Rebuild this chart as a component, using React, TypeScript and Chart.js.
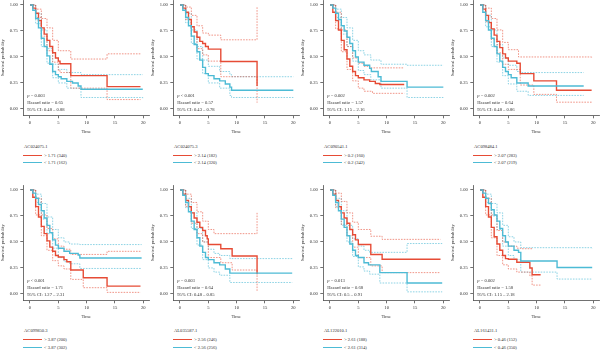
import React, { useEffect, useRef } from 'react';
import { Chart, registerables } from 'chart.js';
Chart.register(...registerables);

type P = [number, number][];

const FONT = '"Liberation Serif", "DejaVu Serif", serif';
const RED = '#E64B35';
const BLUE = '#4DBBD5';
const RED_CI = 'rgba(230,75,53,0.65)';
const BLUE_CI = 'rgba(77,187,213,0.7)';
const AXIS = '#4d4d4d';
const TXT = '#333333';

const xTicks = [0, 5, 10, 15, 20];
const yTicks = [0, 0.25, 0.5, 0.75, 1];

const genes = ['AC024075.1', 'AC024075.3', 'AC090541.1', 'AC098484.1', 'AC099850.3', 'AL035587.1', 'AL122010.1', 'AL161431.1'];
const highLabels = ['> 1.71 (340)', '> 2.14 (182)', '> 0.2 (160)', '> 2.07 (283)', '> 3.87 (200)', '> 2.56 (246)', '> 2.61 (188)', '> 0.46 (152)'];
const lowLabels = ['< 1.71 (162)', '< 2.14 (320)', '< 0.2 (342)', '< 2.07 (219)', '< 3.87 (302)', '< 2.56 (256)', '< 2.61 (314)', '< 0.46 (350)'];
const pValues = ['= 0.003', '< 0.001', '= 0.002', '= 0.002', '< 0.001', '= 0.003', '= 0.013', '= 0.002'];
const hazardRatios = ['0.65', '0.57', '1.57', '0.64', '1.71', '0.64', '0.68', '1.58'];
const ciRanges = ['0.48 – 0.88', '0.43 – 0.78', '1.15 – 2.16', '0.48 – 0.86', '1.27 – 2.31', '0.48 – 0.85', '0.5 – 0.91', '1.15 – 2.18'];

// Panel 1
const red1: P = [[0,1],[0.5,0.97],[1,0.92],[1.5,0.85],[2,0.78],[2.5,0.72],[3,0.66],[3.5,0.6],[4,0.54],[4.5,0.49],[5,0.46],[5.3,0.435],[7.2,0.32],[13.6,0.215],[19.5,0.215]];
const red1Up: P = [[0,1],[1,0.96],[2,0.87],[3,0.78],[4,0.66],[5,0.56],[7.2,0.48],[13.6,0.53],[19.5,0.53]];
const red1Lo: P = [[0,1],[1,0.88],[2,0.7],[3,0.56],[4,0.45],[5,0.37],[5.3,0.35],[7.2,0.2],[13.6,0.09],[19.5,0.09]];
const blue1: P = [[0,1],[0.5,0.95],[1,0.87],[1.5,0.78],[2,0.68],[2.5,0.6],[3,0.51],[3.5,0.43],[4,0.36],[4.5,0.33],[5,0.31],[5.5,0.29],[6.5,0.265],[7.5,0.25],[8.5,0.22],[9,0.19],[19.9,0.19]];
const blue1Up: P = [[0,1],[1,0.92],[2,0.76],[3,0.58],[4,0.43],[5,0.38],[6.5,0.35],[9,0.33],[19.9,0.33]];
const blue1Lo: P = [[0,1],[1,0.82],[2,0.6],[3,0.44],[4,0.3],[5,0.25],[6.5,0.2],[9,0.11],[19.9,0.1]];

// Panel 2
const red2: P = [[0,1],[0.5,0.97],[1,0.93],[1.5,0.86],[2,0.79],[2.5,0.74],[3,0.69],[3.5,0.65],[4,0.63],[4.5,0.6],[5,0.575],[7.2,0.457],[13.6,0.22]];
const red2Up: P = [[0,1],[1,0.98],[2,0.9],[3,0.8],[4,0.73],[5,0.71],[7.2,0.665],[13.6,0.98]];
const red2Lo: P = [[0,1],[1,0.86],[2,0.7],[3,0.58],[4,0.52],[5,0.46],[7.2,0.31],[13.6,0.06]];
const blue2: P = [[0,1],[0.5,0.95],[1,0.88],[1.5,0.8],[2,0.7],[2.5,0.62],[3,0.55],[3.5,0.47],[4,0.4],[4.5,0.34],[5,0.32],[6,0.29],[7,0.27],[8,0.24],[8.8,0.21],[9.1,0.18],[20,0.18]];
const blue2Up: P = [[0,1],[1,0.92],[2,0.76],[3,0.6],[4,0.47],[5,0.41],[7,0.36],[8.8,0.33],[9.1,0.31],[20,0.31]];
const blue2Lo: P = [[0,1],[1,0.83],[2,0.63],[3,0.48],[4,0.34],[5,0.25],[7,0.2],[8.8,0.13],[9.1,0.11],[20,0.11]];

// Panel 3
const red3: P = [[0,1],[0.5,0.93],[1,0.85],[1.5,0.76],[2,0.66],[2.5,0.57],[3,0.48],[3.5,0.41],[4,0.36],[4.5,0.32],[5,0.3],[6,0.28],[7,0.265],[8,0.245],[8.8,0.235],[13.1,0.235]];
const red3Up: P = [[0,1],[1,0.93],[2,0.76],[3,0.6],[4,0.49],[5,0.44],[6,0.41],[7,0.395],[13.1,0.395]];
const red3Lo: P = [[0,1],[1,0.77],[2,0.55],[3,0.38],[4,0.27],[5,0.2],[6,0.17],[7.5,0.15],[13.1,0.15]];
const blue3: P = [[0,1],[0.5,0.97],[1,0.92],[1.5,0.86],[2,0.8],[2.5,0.75],[3,0.69],[3.5,0.63],[4,0.56],[4.5,0.5],[5,0.45],[6,0.42],[7,0.39],[7.3,0.36],[8.5,0.31],[9,0.265],[13.6,0.21],[20,0.21]];
const blue3Up: P = [[0,1],[1,0.96],[2,0.88],[3,0.78],[4,0.66],[5,0.56],[6,0.52],[7.2,0.47],[9,0.43],[13.6,0.42],[20,0.42]];
const blue3Lo: P = [[0,1],[1,0.88],[2,0.72],[3,0.6],[4,0.46],[5,0.37],[6,0.33],[7.2,0.28],[9,0.2],[13.6,0.11],[20,0.11]];

// Panel 4
const red4: P = [[0,1],[0.5,0.96],[1,0.9],[1.5,0.83],[2,0.77],[2.5,0.71],[3,0.65],[3.5,0.59],[4,0.53],[4.5,0.49],[5,0.46],[6.5,0.44],[7.1,0.34],[9.5,0.27],[13.5,0.18],[19.7,0.18]];
const red4Up: P = [[0,1],[1,0.97],[2,0.87],[3,0.76],[4,0.64],[5,0.57],[6.8,0.5],[19.7,0.49]];
const red4Lo: P = [[0,1],[1,0.84],[2,0.67],[3,0.54],[4,0.43],[5,0.38],[7.1,0.23],[9.5,0.14],[13.5,0.065],[19.7,0.065]];
const blue4: P = [[0,1],[0.5,0.93],[1,0.85],[1.5,0.76],[2,0.68],[2.5,0.6],[3,0.53],[3.5,0.46],[4,0.4],[4.5,0.36],[5,0.33],[5.5,0.3],[6.5,0.25],[8.5,0.22],[18.3,0.22]];
const blue4Up: P = [[0,1],[1,0.9],[2,0.76],[3,0.62],[4,0.49],[5,0.42],[6.5,0.36],[7.2,0.35],[18.3,0.35]];
const blue4Lo: P = [[0,1],[1,0.79],[2,0.6],[3,0.45],[4,0.32],[5,0.24],[6.5,0.17],[8.5,0.13],[18.3,0.13]];

// Panel 5
const red5: P = [[0,1],[0.5,0.93],[1,0.84],[1.5,0.74],[2,0.65],[2.5,0.58],[3,0.51],[3.5,0.45],[4,0.41],[4.5,0.37],[5,0.355],[6,0.33],[6.5,0.31],[7.2,0.23],[9.4,0.155],[13.6,0.075],[19.5,0.075]];
const red5Up: P = [[0,1],[1,0.92],[2,0.76],[3,0.63],[4,0.53],[5,0.46],[6,0.43],[7.2,0.38],[9.4,0.38],[13.6,0.41],[19.5,0.41]];
const red5Lo: P = [[0,1],[1,0.76],[2,0.56],[3,0.42],[4,0.32],[5,0.27],[6,0.24],[7.2,0.14],[9.4,0.06],[13.6,0.015],[19.5,0.015]];
const blue5: P = [[0,1],[0.5,0.97],[1,0.92],[1.5,0.86],[2,0.8],[2.5,0.73],[3,0.66],[3.5,0.59],[4,0.52],[4.5,0.47],[5,0.44],[6,0.41],[7,0.39],[8.5,0.375],[8.8,0.345],[19.7,0.345]];
const blue5Up: P = [[0,1],[1,0.96],[2,0.87],[3,0.74],[4,0.62],[5,0.54],[6,0.5],[7,0.48],[8.8,0.475],[19.7,0.475]];
const blue5Lo: P = [[0,1],[1,0.88],[2,0.72],[3,0.58],[4,0.44],[5,0.35],[6,0.31],[7,0.29],[8.8,0.245],[19.7,0.245]];

// Panel 6
const red6: P = [[0,1],[0.5,0.96],[1,0.9],[1.5,0.84],[2,0.78],[2.5,0.73],[3,0.69],[3.5,0.64],[4,0.61],[4.5,0.56],[4.8,0.53],[5,0.475],[7.2,0.435],[9.2,0.365],[13.6,0.19]];
const red6Up: P = [[0,1],[1,0.96],[2,0.88],[3,0.79],[4,0.7],[5,0.62],[6,0.58],[13.6,0.78]];
const red6Lo: P = [[0,1],[1,0.84],[2,0.68],[3,0.58],[4,0.5],[5,0.35],[7.2,0.3],[9.2,0.23],[13.6,0.03]];
const blue6: P = [[0,1],[0.5,0.95],[1,0.88],[1.5,0.79],[2,0.7],[2.5,0.62],[3,0.54],[3.5,0.46],[4,0.4],[4.5,0.35],[5,0.33],[6,0.3],[7,0.28],[8,0.24],[8.8,0.2],[19.8,0.2]];
const blue6Up: P = [[0,1],[1,0.92],[2,0.78],[3,0.63],[4,0.5],[5,0.43],[6,0.39],[7,0.37],[8.8,0.34],[19.8,0.335]];
const blue6Lo: P = [[0,1],[1,0.83],[2,0.63],[3,0.47],[4,0.33],[5,0.25],[6,0.21],[7,0.18],[8.8,0.11],[19.8,0.11]];

// Panel 7
const red7: P = [[0,1],[0.5,0.96],[1,0.9],[1.5,0.84],[2,0.78],[2.5,0.73],[3,0.68],[3.5,0.62],[4,0.57],[4.5,0.52],[5,0.475],[7.2,0.38],[9.2,0.333],[19.5,0.333]];
const red7Up: P = [[0,1],[1,0.97],[2,0.89],[3,0.78],[4,0.69],[5,0.62],[7.2,0.555],[9.2,0.525],[19.5,0.525]];
const red7Lo: P = [[0,1],[1,0.83],[2,0.67],[3,0.56],[4,0.45],[5,0.35],[7.2,0.27],[9.2,0.205],[19.5,0.205]];
const blue7: P = [[0,1],[0.5,0.95],[1,0.88],[1.5,0.8],[2,0.72],[2.5,0.64],[3,0.56],[3.5,0.48],[4,0.42],[4.5,0.37],[5,0.35],[6,0.3],[6.8,0.28],[8.8,0.205],[13.6,0.105],[19.8,0.105]];
const blue7Up: P = [[0,1],[1,0.92],[2,0.8],[3,0.66],[4,0.53],[5,0.46],[6,0.42],[7,0.4],[8.8,0.4],[13.6,0.485],[19.8,0.485]];
const blue7Lo: P = [[0,1],[1,0.84],[2,0.66],[3,0.5],[4,0.36],[5,0.26],[6,0.22],[7,0.19],[8.8,0.105],[13.6,0.02],[19.8,0.02]];

// Panel 8
const red8: P = [[0,1],[0.5,0.93],[1,0.84],[1.5,0.74],[2,0.64],[2.5,0.55],[3,0.48],[3.5,0.42],[4,0.37],[4.5,0.34],[5,0.333],[6.5,0.305],[8.8,0.25],[9.2,0.185],[10.7,0.185]];
const red8Up: P = [[0,1],[1,0.92],[2,0.76],[3,0.61],[4,0.5],[5,0.46],[6.5,0.44],[7.2,0.435],[9.4,0.435]];
const red8Lo: P = [[0,1],[1,0.76],[2,0.54],[3,0.37],[4,0.28],[5,0.24],[6.5,0.21],[8.8,0.175],[9.2,0.085],[10.7,0.085]];
const blue8: P = [[0,1],[0.5,0.97],[1,0.92],[1.5,0.87],[2,0.81],[2.5,0.76],[3,0.7],[3.5,0.63],[4,0.56],[4.5,0.5],[5,0.46],[6,0.42],[6.8,0.4],[7.2,0.317],[13.6,0.254],[19.8,0.254]];
const blue8Up: P = [[0,1],[1,0.96],[2,0.87],[3,0.78],[4,0.66],[5,0.55],[6,0.5],[7.2,0.445],[19.8,0.435]];
const blue8Lo: P = [[0,1],[1,0.88],[2,0.75],[3,0.62],[4,0.46],[5,0.37],[6,0.33],[7.2,0.21],[13.6,0.143],[19.8,0.143]];

const panels = [
  { red: red1, redUp: red1Up, redLo: red1Lo, blue: blue1, blueUp: blue1Up, blueLo: blue1Lo },
  { red: red2, redUp: red2Up, redLo: red2Lo, blue: blue2, blueUp: blue2Up, blueLo: blue2Lo },
  { red: red3, redUp: red3Up, redLo: red3Lo, blue: blue3, blueUp: blue3Up, blueLo: blue3Lo },
  { red: red4, redUp: red4Up, redLo: red4Lo, blue: blue4, blueUp: blue4Up, blueLo: blue4Lo },
  { red: red5, redUp: red5Up, redLo: red5Lo, blue: blue5, blueUp: blue5Up, blueLo: blue5Lo },
  { red: red6, redUp: red6Up, redLo: red6Lo, blue: blue6, blueUp: blue6Up, blueLo: blue6Lo },
  { red: red7, redUp: red7Up, redLo: red7Lo, blue: blue7, blueUp: blue7Up, blueLo: blue7Lo },
  { red: red8, redUp: red8Up, redLo: red8Lo, blue: blue8, blueUp: blue8Up, blueLo: blue8Lo },
];

const FS = 4.6;
const CW = 150;
const CH = 137;

function ds(data: P, color: string, width: number, dash: number[]) {
  return {
    data: data.map(([x, y]) => ({ x, y })),
    borderColor: color,
    borderWidth: width,
    borderDash: dash,
    stepped: 'before' as const,
    pointRadius: 0,
    pointHoverRadius: 0,
    fill: false,
    tension: 0,
  };
}

function Panel({ i }: { i: number }) {
  const ref = useRef<HTMLCanvasElement>(null);
  useEffect(() => {
    const c = panels[i];
    const font = { family: FONT, size: FS };
    const dash = [1.6, 1.2];
    const annot = {
      id: 'annot' + i,
      afterDatasetsDraw(chart: any) {
        const { ctx, chartArea } = chart;
        const x = chartArea.left + 4;
        const b = chartArea.bottom;
        ctx.save();
        ctx.fillStyle = TXT;
        ctx.textBaseline = 'middle';
        ctx.textAlign = 'left';
        ctx.font = `italic ${FS}px ${FONT}`;
        ctx.fillText('p', x, b - 19.6);
        const pw = ctx.measureText('p ').width;
        ctx.font = `${FS}px ${FONT}`;
        ctx.fillText(pValues[i], x + pw, b - 19.6);
        ctx.fillText('Hazard ratio = ' + hazardRatios[i], x, b - 12.8);
        ctx.fillText('95% CI: ' + ciRanges[i], x, b - 6);
        ctx.restore();
      },
    };
    const chart = new Chart(ref.current as HTMLCanvasElement, {
      type: 'line',
      data: {
        datasets: [
          ds(c.blue, BLUE, 1.4, []),
          ds(c.red, RED, 1.4, []),
          ds(c.redUp, RED_CI, 0.9, dash),
          ds(c.redLo, RED_CI, 0.9, dash),
          ds(c.blueUp, BLUE_CI, 0.9, dash),
          ds(c.blueLo, BLUE_CI, 0.9, dash),
        ],
      },
      options: {
        animation: false,
        responsive: false,
        maintainAspectRatio: false,
        layout: { padding: { top: 0, right: 1, bottom: 0, left: 0 } },
        plugins: { legend: { display: false }, tooltip: { enabled: false } },
        events: [],
        scales: {
          x: {
            type: 'linear',
            min: -1.18,
            max: 21,
            afterBuildTicks: (s: any) => { s.ticks = xTicks.map((v) => ({ value: v })); },
            afterFit: (s: any) => { s.height = 21.7; s.paddingLeft = 0; s.paddingRight = 0; },
            grid: { drawOnChartArea: false, drawTicks: true, tickLength: 3, color: AXIS, lineWidth: 0.8 },
            border: { display: true, color: AXIS, width: 0.8 },
            ticks: { font, color: TXT, padding: 2, maxRotation: 0, autoSkip: false, callback: (v: any) => String(v) },
            title: { display: true, text: 'Time', font, color: TXT, padding: { top: 0, bottom: 2.2 } },
          },
          y: {
            type: 'linear',
            min: -0.0613,
            max: 1.048,
            afterBuildTicks: (s: any) => { s.ticks = yTicks.map((v) => ({ value: v })); },
            afterFit: (s: any) => { s.width = 23.3; s.paddingTop = 0; s.paddingBottom = 0; },
            grid: { drawOnChartArea: false, drawTicks: true, tickLength: 3, color: AXIS, lineWidth: 0.8 },
            border: { display: true, color: AXIS, width: 0.8 },
            ticks: { font, color: TXT, padding: 2.5, autoSkip: false, callback: (v: any) => Number(v).toFixed(2) },
            title: { display: true, text: 'Survival probability', font, color: TXT, padding: { top: 0.3, bottom: 0 } },
          },
        },
      } as any,
      plugins: [annot],
    });
    return () => chart.destroy();
  }, [i]);

  const col = i % 4;
  const row = Math.floor(i / 4);
  const left = col * 150;
  const top = row * 184.6;
  const txt: React.CSSProperties = {
    position: 'absolute',
    fontFamily: FONT,
    fontSize: FS,
    lineHeight: '5px',
    color: TXT,
    whiteSpace: 'nowrap',
  };
  return (
    <div style={{ position: 'absolute', left, top, width: CW, height: 167 }}>
      <canvas ref={ref} width={CW} height={CH} style={{ position: 'absolute', left: 0, top: 0, width: CW, height: CH }} />
      <div style={{ ...txt, left: 24, top: 143.5 }}>{genes[i]}</div>
      <div style={{ position: 'absolute', left: 23, top: 154.5, width: 19, height: 0, borderTop: `1.2px solid ${RED}` }} />
      <div style={{ ...txt, left: 44, top: 152.5 }}>{highLabels[i]}</div>
      <div style={{ position: 'absolute', left: 23, top: 162.2, width: 19, height: 0, borderTop: `1.2px solid ${BLUE}` }} />
      <div style={{ ...txt, left: 44, top: 160.2 }}>{lowLabels[i]}</div>
    </div>
  );
}

export default function App() {
  return (
    <div style={{ position: 'absolute', left: 0, top: 0, width: 600, height: 352, background: '#ffffff', overflow: 'hidden' }}>
      {panels.map((_, i) => (
        <Panel key={i} i={i} />
      ))}
    </div>
  );
}
